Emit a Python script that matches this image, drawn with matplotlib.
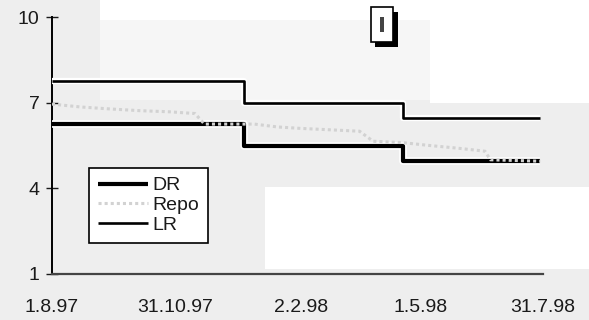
import matplotlib
matplotlib.use("Agg")
import matplotlib.pyplot as plt
import matplotlib.patheffects as pe
from matplotlib.patches import Rectangle
import pandas as pd

# ---- data ----
dr_dates = ["1997-08-01", "1997-12-21", "1998-04-18", "1998-07-29"]
dr_values = [6.25, 5.47, 4.94, 4.94]

lr_dates = ["1997-08-01", "1997-12-21", "1998-04-18", "1998-07-29"]
lr_values = [7.75, 7.00, 6.48, 6.48]

repo_dates = ["1997-08-01", "1997-08-22", "1997-09-13", "1997-10-05", "1997-10-27",
              "1997-11-15", "1997-11-22", "1997-12-21", "1997-12-29", "1998-01-15",
              "1998-02-01", "1998-02-23", "1998-03-17", "1998-03-27", "1998-04-18",
              "1998-05-08", "1998-05-30", "1998-06-18", "1998-06-22", "1998-07-29"]
repo_values = [6.95, 6.85, 6.78, 6.72, 6.68,
               6.62, 6.25, 6.25, 6.25, 6.15,
               6.10, 6.05, 6.00, 5.65, 5.60,
               5.50, 5.40, 5.30, 5.00, 4.95]

xtick_dates = ["1997-08-01", "1997-10-31", "1998-02-02", "1998-05-01", "1998-07-31"]
xtick_labels = ["1.8.97", "31.10.97", "2.2.98", "1.5.98", "31.7.98"]
yticks = [1, 4, 7, 10]

plt.rcParams["font.family"] = ["Liberation Sans", "DejaVu Sans"]

W, H = 589, 320
fig = plt.figure(figsize=(W / 100, H / 100), dpi=100, facecolor="#eeeeee")

def px_rect(x0, y0, x1, y1, color, z=-1, **kw):
    r = Rectangle((x0 / W, 1 - y1 / H), (x1 - x0) / W, (y1 - y0) / H,
                  transform=fig.transFigure, facecolor=color, zorder=z, **kw)
    fig.patches.append(r)
    return r

# scan-like background patches
px_rect(100, 0, 589, 20, "white", edgecolor="none")
px_rect(100, 20, 430, 100, "#f6f6f6", edgecolor="none")
px_rect(430, 0, 589, 103, "white", edgecolor="none")
px_rect(265, 187, 589, 269, "white", edgecolor="none")

# small icon at top
px_rect(375, 12, 398, 47, "black", z=2, edgecolor="none")
px_rect(371, 7, 393, 42, "white", z=3, edgecolor="black", linewidth=1.2)
px_rect(380, 17, 384, 32, "#444444", z=4, edgecolor="none")

ax = fig.add_axes([52 / W, 1 - 274 / H, (543 - 52) / W, (274 - 17) / H])
ax.set_facecolor("none")

dr_x = pd.to_datetime(dr_dates)
lr_x = pd.to_datetime(lr_dates)
repo_x = pd.to_datetime(repo_dates)

halo = lambda w: [pe.withStroke(linewidth=w, foreground="white")]

ax.plot(lr_x, lr_values, drawstyle="steps-post", color="black", lw=1.9,
        label="LR", path_effects=halo(4.5), solid_capstyle="butt", zorder=3)
ax.plot(dr_x, dr_values, drawstyle="steps-post", color="black", lw=3.0,
        label="DR", path_effects=halo(5.5), solid_capstyle="butt", zorder=3)
ax.plot(repo_x, repo_values, color="#d2d2d2", lw=2.2, linestyle=(0, (1.0, 1.0)),
        label="Repo", zorder=4)

ax.set_ylim(1, 10)
ax.set_xlim(pd.Timestamp("1997-08-01"), pd.Timestamp("1998-07-31"))
ax.set_yticks(yticks)
ax.set_yticklabels([str(v) for v in yticks], fontsize=14, color="#1a1a1a")
ax.set_xticks(pd.to_datetime(xtick_dates))
ax.set_xticklabels(xtick_labels, fontsize=14, color="#1a1a1a")

ax.tick_params(axis="y", direction="inout", length=8, width=1, pad=5, colors="#1a1a1a")
ax.tick_params(axis="x", length=0, pad=18)

for s in ["top", "right"]:
    ax.spines[s].set_visible(False)
ax.spines["left"].set_linewidth(1.4)
ax.spines["left"].set_color("black")
ax.spines["bottom"].set_linewidth(1.6)
ax.spines["bottom"].set_color("#444444")

handles, labels = ax.get_legend_handles_labels()
order = [labels.index(n) for n in ["DR", "Repo", "LR"]]
leg = ax.legend([handles[i] for i in order], [labels[i] for i in order],
                loc="upper left", bbox_to_anchor=(89 / W, 1 - 168 / H),
                bbox_transform=fig.transFigure, borderaxespad=0,
                fontsize=14, frameon=True, fancybox=False, framealpha=1,
                edgecolor="black", facecolor="white", handlelength=2.6,
                handletextpad=0.2, labelspacing=0.12, borderpad=0.45)
leg.get_frame().set_linewidth(1.2)
for t in leg.get_texts():
    t.set_color("#1a1a1a")

fig.savefig("out.png", dpi=100, facecolor=fig.get_facecolor())
